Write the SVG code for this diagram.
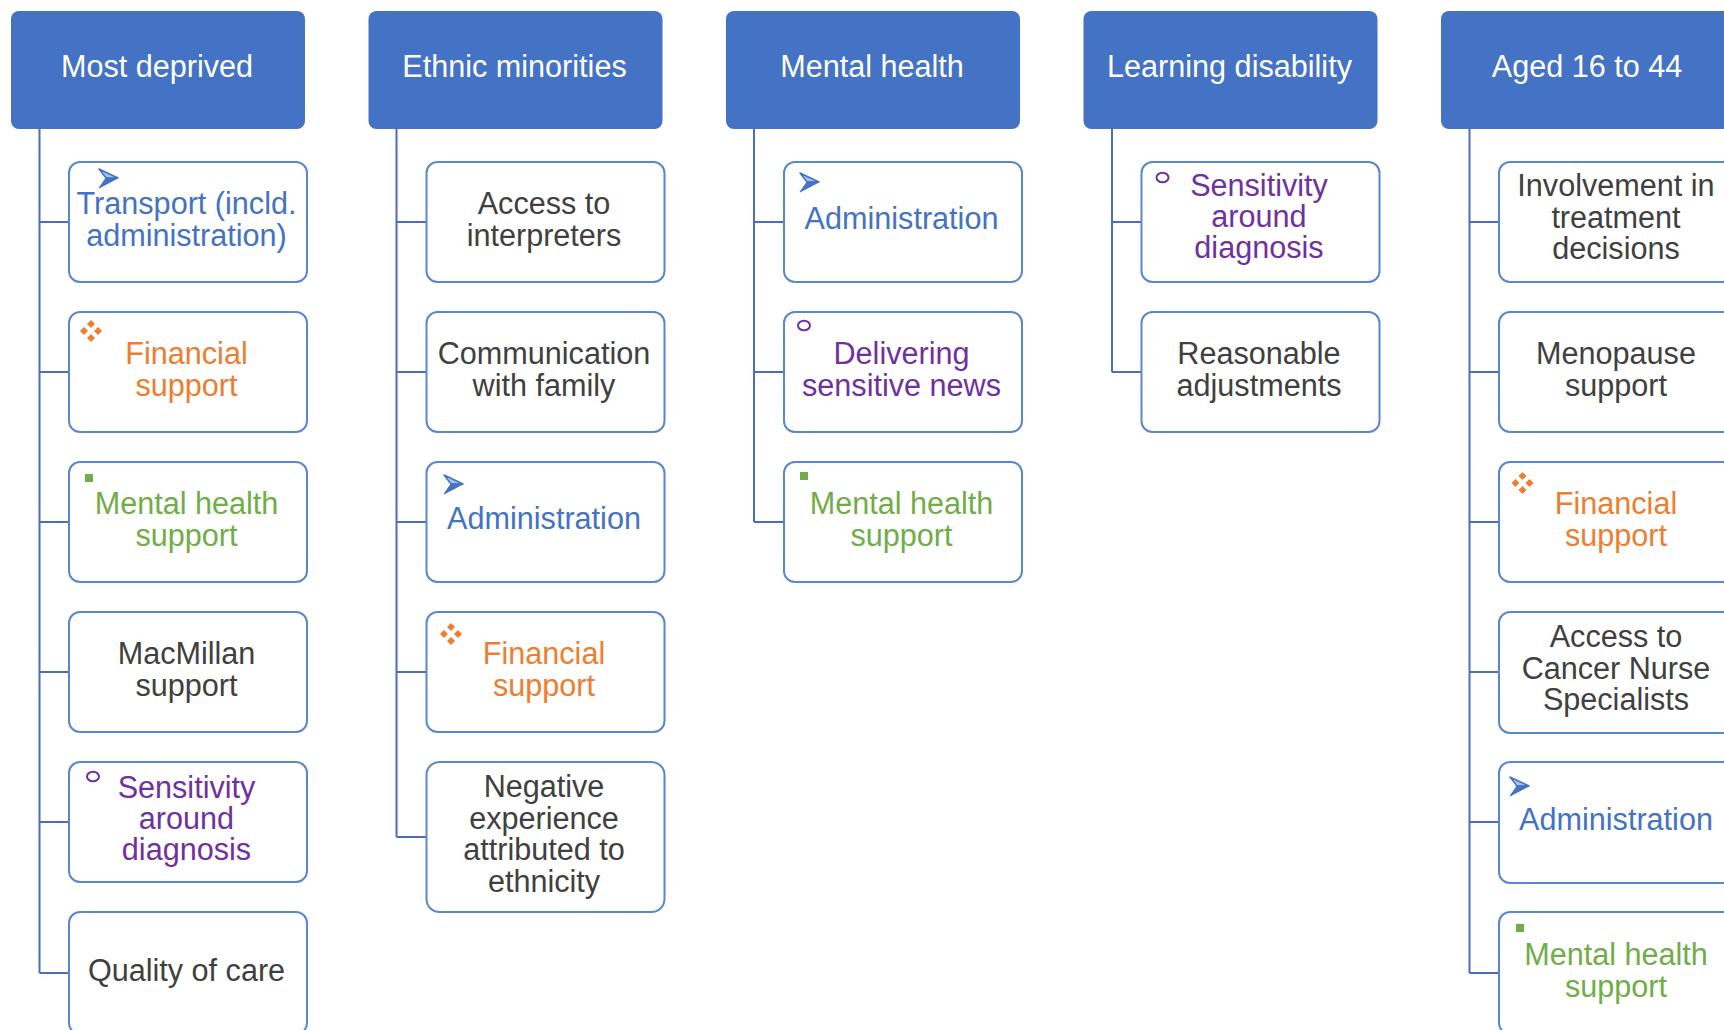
<svg xmlns="http://www.w3.org/2000/svg" xmlns:xlink="http://www.w3.org/1999/xlink" width="1724" height="1030" viewBox="0 0 1724 1030">
  <style>
    .hdr { fill: #4472C4; }
    .hdr-t { fill: #FFFFFF; font-family: "Liberation Sans", Arial, sans-serif; font-size: 30.6px; text-anchor: middle; }
    .box { fill: #FFFFFF; stroke: #5A86D0; stroke-width: 2; }
    .t { font-family: "Liberation Sans", Arial, sans-serif; font-size: 30.6px; text-anchor: middle; }
    .gray { fill: #404040; }
    .blue { fill: #4472C4; }
    .orange { fill: #ED7D31; }
    .green { fill: #70AD47; }
    .purple { fill: #7030A0; }
    .conn { fill: none; stroke: #4A6FB8; stroke-width: 2; }
  </style>
  <defs>
    <!-- arrow marker icon (20x20) -->
    <g id="ico-arrow">
      <path d="M1,1 L20,10 L8,10 Z" fill="#A9BFE6" stroke="#4472C4" stroke-width="1.5" stroke-linejoin="round"/>
      <path d="M1,20 L20,10 L8,10 Z" fill="#4472C4" stroke="#4472C4" stroke-width="1" stroke-linejoin="round"/>
    </g>
    <!-- four-diamond icon centred on 0,0 -->
    <g id="ico-diamonds" fill="#ED7D31">
      <path d="M0,-11 L4,-7 L0,-3 L-4,-7 Z"/>
      <path d="M-7,-4 L-3,0 L-7,4 L-11,0 Z"/>
      <path d="M7,-4 L11,0 L7,4 L3,0 Z"/>
      <path d="M0,3 L4,7 L0,11 L-4,7 Z"/>
    </g>
    <!-- small circle icon centred on 0,0 -->
    <ellipse id="ico-ring" cx="0" cy="0" rx="6" ry="4.8" fill="none" stroke="#7030A0" stroke-width="2"/>
    <!-- small square icon -->
    <rect id="ico-square" x="0" y="0" width="8" height="8" fill="#70AD47"/>
  </defs>

  <rect width="1724" height="1030" fill="#FFFFFF"/>

  <!-- connectors -->
  <g id="connectors" class="conn">
    <path d="M39.5,129 V973 M39.5,222 H69 M39.5,372 H69 M39.5,522 H69 M39.5,672 H69 M39.5,822 H69 M39.5,973 H69"/>
    <path d="M396.5,129 V837 M396.5,222 H426.5 M396.5,372 H426.5 M396.5,522 H426.5 M396.5,672 H426.5 M396.5,837 H426.5"/>
    <path d="M754,129 V522 M754,222 H784 M754,372 H784 M754,522 H784"/>
    <path d="M1112,129 V372 M1112,222 H1141.5 M1112,372 H1141.5"/>
    <path d="M1469.5,129 V973 M1469.5,222 H1499 M1469.5,372 H1499 M1469.5,522 H1499 M1469.5,672 H1499 M1469.5,822 H1499 M1469.5,973 H1499"/>
  </g>

  <!-- column: Most deprived -->
  <g id="most-deprived">
    <rect class="hdr" x="11" y="11" width="294" height="118" rx="8"/>
    <text class="hdr-t" x="157" y="77">Most deprived</text>
  </g>
  <g id="md-transport">
    <rect class="box" x="69" y="162" width="238" height="120" rx="11"/>
    <use xlink:href="#ico-arrow" x="98" y="168"/>
    <text class="t blue" x="186.5" y="214">Transport (incld.</text>
    <text class="t blue" x="186.5" y="246">administration)</text>
  </g>
  <g id="md-financial">
    <rect class="box" x="69" y="312" width="238" height="120" rx="11"/>
    <use xlink:href="#ico-diamonds" x="91" y="331"/>
    <text class="t orange" x="186.5" y="364">Financial</text>
    <text class="t orange" x="186.5" y="396">support</text>
  </g>
  <g id="md-mental">
    <rect class="box" x="69" y="462" width="238" height="120" rx="11"/>
    <use xlink:href="#ico-square" x="85" y="474"/>
    <text class="t green" x="186.5" y="514">Mental health</text>
    <text class="t green" x="186.5" y="546">support</text>
  </g>
  <g id="md-macmillan">
    <rect class="box" x="69" y="612" width="238" height="120" rx="11"/>
    <text class="t gray" x="186.5" y="664">MacMillan</text>
    <text class="t gray" x="186.5" y="696">support</text>
  </g>
  <g id="md-sensitivity">
    <rect class="box" x="69" y="762" width="238" height="120" rx="11"/>
    <use xlink:href="#ico-ring" x="93" y="776.5"/>
    <text class="t purple" x="186.5" y="798">Sensitivity</text>
    <text class="t purple" x="186.5" y="829">around</text>
    <text class="t purple" x="186.5" y="860">diagnosis</text>
  </g>
  <g id="md-quality">
    <rect class="box" x="69" y="912" width="238" height="122" rx="11"/>
    <text class="t gray" x="186.5" y="981">Quality of care</text>
  </g>

  <!-- column: Ethnic minorities -->
  <g id="ethnic-minorities">
    <rect class="hdr" x="368.5" y="11" width="294" height="118" rx="8"/>
    <text class="hdr-t" x="514.5" y="77">Ethnic minorities</text>
  </g>
  <g id="em-interpreters">
    <rect class="box" x="426.5" y="162" width="238" height="120" rx="11"/>
    <text class="t gray" x="544" y="214">Access to</text>
    <text class="t gray" x="544" y="246">interpreters</text>
  </g>
  <g id="em-family">
    <rect class="box" x="426.5" y="312" width="238" height="120" rx="11"/>
    <text class="t gray" x="544" y="364">Communication</text>
    <text class="t gray" x="544" y="396">with family</text>
  </g>
  <g id="em-admin">
    <rect class="box" x="426.5" y="462" width="238" height="120" rx="11"/>
    <use xlink:href="#ico-arrow" x="443" y="474"/>
    <text class="t blue" x="544" y="529">Administration</text>
  </g>
  <g id="em-financial">
    <rect class="box" x="426.5" y="612" width="238" height="120" rx="11"/>
    <use xlink:href="#ico-diamonds" x="451" y="634"/>
    <text class="t orange" x="544" y="664">Financial</text>
    <text class="t orange" x="544" y="696">support</text>
  </g>
  <g id="em-negative">
    <rect class="box" x="426.5" y="762" width="238" height="150" rx="13"/>
    <text class="t gray" x="544" y="797">Negative</text>
    <text class="t gray" x="544" y="829">experience</text>
    <text class="t gray" x="544" y="860">attributed to</text>
    <text class="t gray" x="544" y="892">ethnicity</text>
  </g>

  <!-- column: Mental health -->
  <g id="mental-health">
    <rect class="hdr" x="726" y="11" width="294" height="118" rx="8"/>
    <text class="hdr-t" x="872" y="77">Mental health</text>
  </g>
  <g id="mh-admin">
    <rect class="box" x="784" y="162" width="238" height="120" rx="11"/>
    <use xlink:href="#ico-arrow" x="799" y="172"/>
    <text class="t blue" x="901.5" y="229">Administration</text>
  </g>
  <g id="mh-news">
    <rect class="box" x="784" y="312" width="238" height="120" rx="11"/>
    <use xlink:href="#ico-ring" x="804" y="325.5"/>
    <text class="t purple" x="901.5" y="364">Delivering</text>
    <text class="t purple" x="901.5" y="396">sensitive news</text>
  </g>
  <g id="mh-mental">
    <rect class="box" x="784" y="462" width="238" height="120" rx="11"/>
    <use xlink:href="#ico-square" x="800" y="472"/>
    <text class="t green" x="901.5" y="514">Mental health</text>
    <text class="t green" x="901.5" y="546">support</text>
  </g>

  <!-- column: Learning disability -->
  <g id="learning-disability">
    <rect class="hdr" x="1083.5" y="11" width="294" height="118" rx="8"/>
    <text class="hdr-t" x="1229.5" y="77">Learning disability</text>
  </g>
  <g id="ld-sensitivity">
    <rect class="box" x="1141.5" y="162" width="238" height="120" rx="11"/>
    <use xlink:href="#ico-ring" x="1162.5" y="177.5"/>
    <text class="t purple" x="1259" y="196">Sensitivity</text>
    <text class="t purple" x="1259" y="227">around</text>
    <text class="t purple" x="1259" y="258">diagnosis</text>
  </g>
  <g id="ld-adjustments">
    <rect class="box" x="1141.5" y="312" width="238" height="120" rx="11"/>
    <text class="t gray" x="1259" y="364">Reasonable</text>
    <text class="t gray" x="1259" y="396">adjustments</text>
  </g>

  <!-- column: Aged 16 to 44 -->
  <g id="aged-16-44">
    <rect class="hdr" x="1441" y="11" width="294" height="118" rx="8"/>
    <text class="hdr-t" x="1587" y="77">Aged 16 to 44</text>
  </g>
  <g id="ag-involvement">
    <rect class="box" x="1499" y="162" width="238" height="120" rx="11"/>
    <text class="t gray" x="1616" y="196">Involvement in</text>
    <text class="t gray" x="1616" y="228">treatment</text>
    <text class="t gray" x="1616" y="259">decisions</text>
  </g>
  <g id="ag-menopause">
    <rect class="box" x="1499" y="312" width="238" height="120" rx="11"/>
    <text class="t gray" x="1616" y="364">Menopause</text>
    <text class="t gray" x="1616" y="396">support</text>
  </g>
  <g id="ag-financial">
    <rect class="box" x="1499" y="462" width="238" height="120" rx="11"/>
    <use xlink:href="#ico-diamonds" x="1522.5" y="483"/>
    <text class="t orange" x="1616" y="514">Financial</text>
    <text class="t orange" x="1616" y="546">support</text>
  </g>
  <g id="ag-cns">
    <rect class="box" x="1499" y="612" width="238" height="121" rx="11"/>
    <text class="t gray" x="1616" y="647">Access to</text>
    <text class="t gray" x="1616" y="679">Cancer Nurse</text>
    <text class="t gray" x="1616" y="710">Specialists</text>
  </g>
  <g id="ag-admin">
    <rect class="box" x="1499" y="762" width="238" height="121" rx="11"/>
    <use xlink:href="#ico-arrow" x="1509" y="776"/>
    <text class="t blue" x="1616" y="830">Administration</text>
  </g>
  <g id="ag-mental">
    <rect class="box" x="1499" y="912" width="238" height="122" rx="11"/>
    <use xlink:href="#ico-square" x="1516" y="924"/>
    <text class="t green" x="1616" y="965">Mental health</text>
    <text class="t green" x="1616" y="997">support</text>
  </g>
</svg>
